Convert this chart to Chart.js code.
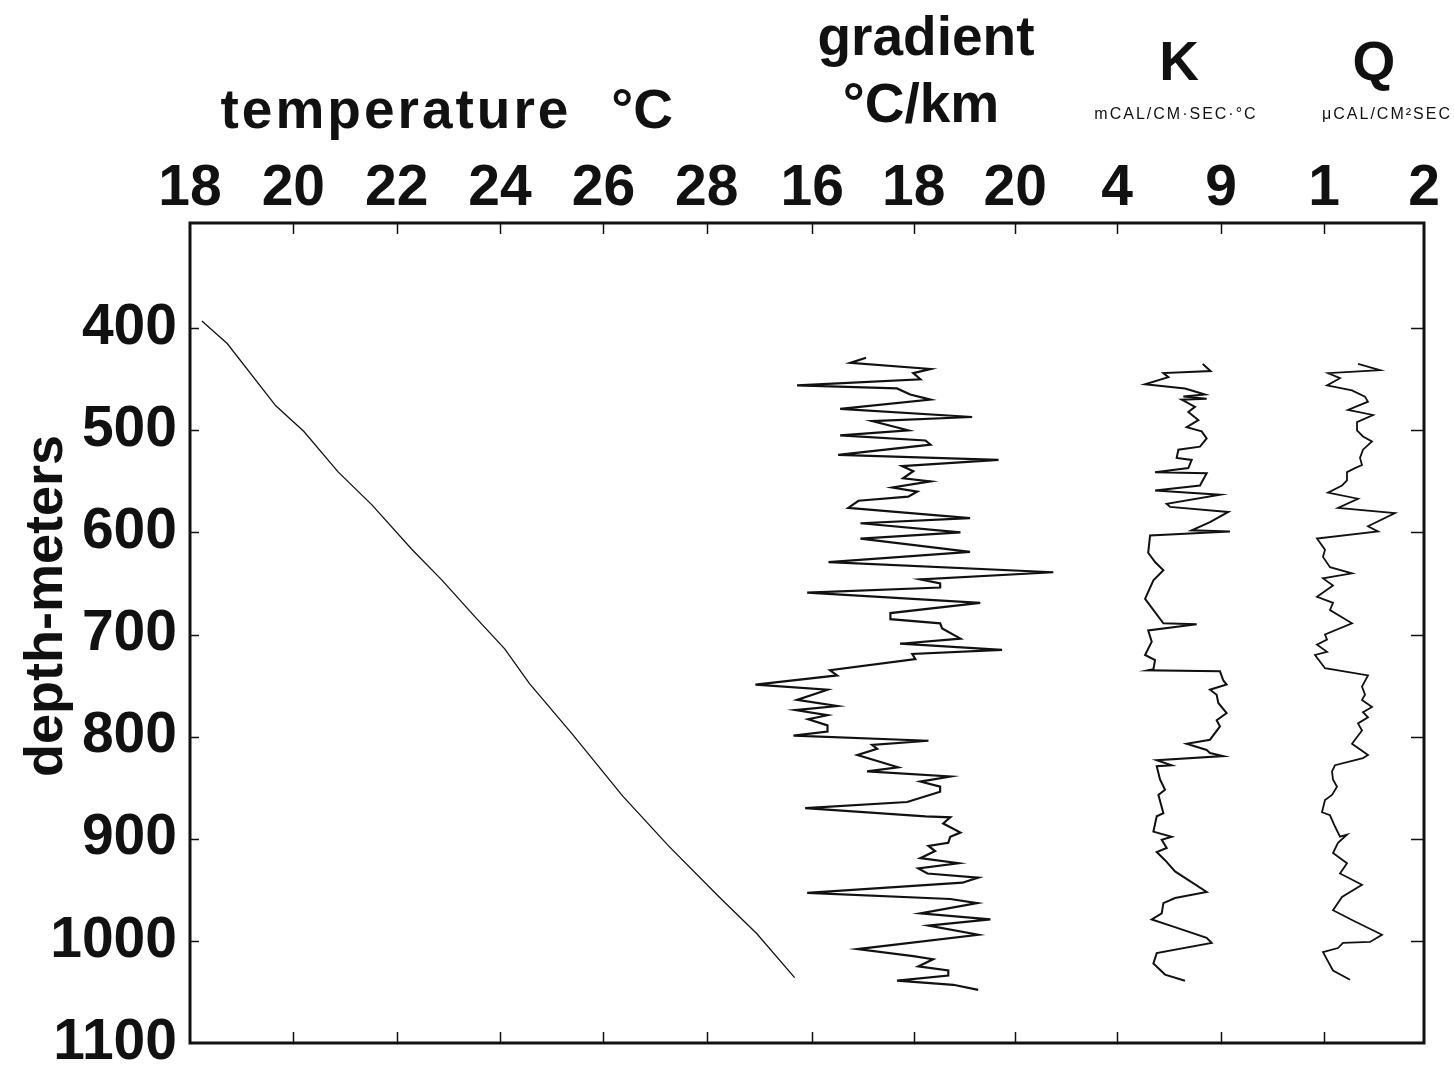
<!DOCTYPE html>
<html>
<head>
<meta charset="utf-8">
<title>Temperature, gradient, K and Q against depth</title>
<script src="https://cdn.jsdelivr.net/npm/chart.js"></script>
<style>
  html, body { margin: 0; padding: 0; background: #fff; }
  #wrap { width: 1454px; height: 1072px; position: relative; }
</style>
</head>
<body>
<div id="wrap"><canvas id="wellChart"></canvas></div>
<script>
// tick labels along the top (one set per track) and down the side
const tempTicks = [18, 20, 22, 24, 26, 28];
const gradTicks = [16, 18, 20];
const kTicks = [4, 9];
const qTicks = [1, 2];
const depthTicks = [400, 500, 600, 700, 800, 900, 1000, 1100];

// temperature log, deg C
const tempDepth = [393, 415, 476, 501, 541, 573, 617, 647, 683, 714, 748, 797, 858, 907, 957, 993, 1036, 1049];
const tempValue = [18.23, 18.72, 19.66, 20.20, 20.87, 21.52, 22.30, 22.88, 23.52, 24.09, 24.57, 25.39, 26.37, 27.26, 28.24, 28.97, 29.70, 29.91];

// gradient, deg C / km
const gradDepth = [429, 434, 440, 444, 450, 456, 459, 465, 470, 479, 487, 491, 500, 505, 510, 514, 524, 529, 535, 540,
  547, 550, 556, 560, 565, 569, 576, 586, 591, 600, 606, 619, 629, 639, 646, 650, 654, 659, 669, 679,
  685, 689, 694, 704, 709, 715, 719, 724, 735, 740, 749, 754, 764, 770, 774, 779, 783, 789, 795, 799,
  804, 808, 812, 818, 830, 834, 839, 844, 849, 854, 864, 870, 878, 879, 885, 894, 898, 904, 907, 912,
  919, 924, 929, 934, 938, 943, 953, 959, 963, 973, 979, 985, 994, 1008, 1015, 1018, 1025, 1029, 1034, 1039,
  1043, 1048];
const gradValue = [17.06, 16.75, 18.33, 17.99, 18.13, 15.70, 17.67, 17.93, 18.33, 16.55, 19.15, 17.18, 17.89, 16.55, 18.23, 18.33, 16.51, 19.67, 17.77, 17.99,
  17.79, 18.33, 17.58, 18.07, 17.89, 16.91, 16.71, 19.11, 16.95, 18.92, 16.95, 19.11, 16.32, 20.75, 18.13, 18.52, 18.52, 15.90, 19.31, 17.54,
  17.54, 18.52, 18.56, 18.92, 17.73, 19.74, 17.97, 18.03, 16.35, 16.49, 14.88, 16.30, 15.70, 16.49, 15.67, 16.30, 15.92, 16.30, 16.30, 15.63,
  18.29, 17.18, 17.28, 16.89, 17.69, 17.08, 18.72, 18.13, 18.52, 18.52, 17.87, 15.86, 18.23, 18.72, 18.58, 18.92, 18.72, 18.68, 18.29, 18.42,
  18.13, 18.88, 18.09, 18.27, 19.27, 18.96, 15.90, 18.72, 19.25, 18.13, 19.51, 18.29, 19.27, 16.89, 17.99, 18.38, 18.09, 18.68, 18.68, 17.67,
  18.78, 19.27];

// conductivity K, mcal/cm sec deg C
const kDepth = [435, 442, 444, 448, 455, 459, 461, 465, 467, 469, 470, 477, 482, 490, 497, 501, 508, 516, 519, 527,
  529, 537, 541, 542, 554, 559, 563, 572, 575, 580, 590, 598, 599, 603, 620, 629, 637, 647, 665, 689,
  690, 696, 707, 720, 725, 734, 735, 736, 745, 749, 754, 759, 767, 777, 784, 790, 803, 807, 813, 816,
  819, 823, 828, 829, 842, 852, 857, 875, 878, 893, 898, 901, 909, 913, 921, 932, 952, 958, 963, 973,
  979, 986, 997, 1002, 1012, 1022, 1033, 1039];
const kValue = [8.12, 8.50, 6.23, 6.47, 5.35, 7.27, 7.59, 8.23, 7.19, 8.31, 7.11, 7.75, 7.43, 7.91, 7.35, 8.07, 8.31, 7.99, 6.95, 6.87,
  7.59, 7.43, 5.83, 8.31, 7.99, 5.83, 8.95, 6.39, 6.55, 9.35, 8.47, 7.59, 9.43, 5.59, 5.50, 5.83, 6.23, 5.75, 5.35, 6.23,
  7.83, 5.50, 5.67, 5.35, 5.83, 5.75, 5.50, 8.95, 9.11, 9.27, 8.47, 8.79, 8.87, 9.27, 8.79, 8.95, 8.47, 7.35, 8.31, 8.47,
  9.11, 5.91, 6.63, 5.91, 6.07, 6.31, 5.99, 6.23, 5.91, 5.75, 6.63, 6.15, 6.39, 5.91, 6.31, 6.79, 8.31, 6.79, 6.23, 6.15,
  5.67, 6.71, 8.31, 8.55, 5.91, 5.75, 6.31, 7.27];

// heat flow Q, microcal/cm2 sec
const qDepth = [435, 441, 444, 449, 456, 461, 467, 472, 480, 485, 492, 500, 506, 511, 519, 527, 534, 537, 541, 549,
  554, 561, 567, 576, 581, 594, 599, 606, 617, 624, 634, 640, 645, 652, 663, 669, 676, 689, 700, 705,
  710, 717, 720, 733, 740, 751, 759, 764, 771, 776, 781, 787, 794, 807, 818, 821, 828, 834, 842, 849,
  857, 862, 874, 877, 888, 898, 896, 904, 914, 924, 934, 945, 957, 970, 980, 994, 1001, 1002, 1007, 1011,
  1029, 1038];
const qValue = [1.34, 1.56, 1.04, 1.16, 1.03, 1.28, 1.41, 1.44, 1.24, 1.49, 1.33, 1.33, 1.39, 1.48, 1.39, 1.36, 1.38, 1.31, 1.23, 1.23,
  1.18, 1.04, 1.34, 1.14, 1.71, 1.44, 1.54, 0.93, 1.01, 0.99, 1.06, 1.28, 0.99, 1.09, 0.93, 1.09, 1.06, 1.28, 1.01, 1.03,
  0.93, 1.03, 0.91, 1.01, 1.44, 1.38, 1.41, 1.38, 1.48, 1.39, 1.44, 1.34, 1.38, 1.28, 1.44, 1.39, 1.11, 1.08, 1.09, 1.13,
  1.08, 1.01, 0.98, 1.06, 1.11, 1.16, 1.23, 1.14, 1.09, 1.23, 1.16, 1.38, 1.18, 1.09, 1.29, 1.58, 1.46, 1.19, 1.14, 0.99,
  1.09, 1.26];

const INK = '#111';
const FONT = '"Liberation Sans", Arial, sans-serif';
const tickFont = { family: FONT, size: 57, weight: 'bold', lineHeight: 1 };

function toPoints(depths, values) {
  return depths.map((d, i) => ({ x: values[i], y: d }));
}

// one track of the top axis; the four tracks sit side by side in one stack
function topAxis(min, max, weight, tickValues) {
  return {
    type: 'linear',
    position: 'top',
    stack: 'tracks',
    stackWeight: weight,
    min: min,
    max: max,
    clip: false,
    grid: { display: false, drawTicks: false },
    border: { display: false },
    ticks: {
      autoSkip: false, maxRotation: 0, padding: 5, color: INK, font: tickFont,
      callback: (v) => String(v)
    },
    afterBuildTicks: (s) => { s.ticks = tickValues.map((v) => ({ value: v })); },
    afterFit: (s) => { s.height = 62; s.paddingLeft = 0; s.paddingRight = 0; }
  };
}

function track(values, depths, axisId, width) {
  return {
    data: toPoints(depths, values),
    xAxisID: axisId,
    yAxisID: 'y',
    showLine: true,
    borderColor: INK,
    borderWidth: width,
    pointRadius: 0,
    tension: 0,
    clip: false
  };
}

// frame, inward tick marks and the hand-lettered headings
const framePlugin = {
  id: 'frame',
  afterDraw(chart) {
    const { ctx, chartArea: a, scales } = chart;
    ctx.save();
    ctx.strokeStyle = INK;
    ctx.lineWidth = 3;
    ctx.strokeRect(a.left, a.top, a.right - a.left, a.bottom - a.top);

    ctx.lineWidth = 1.5;
    ctx.beginPath();
    ['xT', 'xG', 'xK', 'xQ'].forEach((id) => {
      const sc = scales[id];
      sc.ticks.forEach((t) => {
        const x = Math.round(sc.getPixelForValue(t.value)) + 0.5;
        if (x < a.left + 3 || x > a.right - 3) return;
        ctx.moveTo(x, a.top);
        ctx.lineTo(x, a.top + 11);
        ctx.moveTo(x, a.bottom);
        ctx.lineTo(x, a.bottom - 11);
      });
    });
    scales.y.ticks.forEach((t) => {
      const y = Math.round(scales.y.getPixelForValue(t.value)) + 0.5;
      if (y > a.bottom - 3) return;
      ctx.moveTo(a.left, y);
      ctx.lineTo(a.left + 9, y);
      ctx.moveTo(a.right, y);
      ctx.lineTo(a.right - 13, y);
    });
    ctx.stroke();

    ctx.fillStyle = INK;
    ctx.textBaseline = 'alphabetic';
    ctx.textAlign = 'center';
    ctx.font = 'bold 55px ' + FONT;
    ctx.letterSpacing = '3px';
    ctx.fillText('temperature', 396, 128);
    ctx.letterSpacing = '0px';
    ctx.fillText('°C', 642, 128);
    ctx.fillText('gradient', 926, 55);
    ctx.fillText('°C/km', 921, 122);
    ctx.fillText('K', 1179, 80);
    ctx.fillText('Q', 1374, 80);
    ctx.font = '16px ' + FONT;
    ctx.letterSpacing = '2px';
    ctx.fillText('mCAL/CM·SEC·°C', 1176, 119);
    ctx.fillText('μCAL/CM²SEC', 1387, 119);
    ctx.letterSpacing = '0px';

    ctx.translate(62, 606);
    ctx.rotate(-Math.PI / 2);
    ctx.font = 'bold 54px ' + FONT;
    ctx.fillText('depth-meters', 0, 0);
    ctx.restore();
  }
};

new Chart(document.getElementById('wellChart'), {
  type: 'scatter',
  data: {
    datasets: [
      track(tempValue, tempDepth, 'xT', 1.3),
      track(gradValue, gradDepth, 'xG', 2.2),
      track(kValue, kDepth, 'xK', 2),
      track(qValue, qDepth, 'xQ', 1.8)
    ]
  },
  options: {
    responsive: true,
    maintainAspectRatio: false,
    animation: false,
    devicePixelRatio: 1,
    layout: { padding: { top: 161, right: 30, bottom: 29, left: 0 } },
    plugins: { legend: { display: false }, tooltip: { enabled: false } },
    scales: {
      // top boxes are laid out in reverse order, so the rightmost track comes first
      xQ: topAxis(0.48, 2.0, 152, qTicks),
      xK: topAxis(1.55, 11.45, 206, kTicks),
      xG: topAxis(14.97, 21.0, 306, gradTicks),
      xT: topAxis(18, 29.03, 570, tempTicks),
      y: {
        type: 'linear',
        position: 'left',
        reverse: true,
        min: 297,
        max: 1100,
        grid: { display: false, drawTicks: false },
        border: { display: false },
        ticks: { padding: 13, color: INK, font: tickFont, callback: (v) => String(v) },
        afterBuildTicks: (s) => { s.ticks = depthTicks.map((v) => ({ value: v })); },
        afterFit: (s) => { s.width = 190; s.paddingTop = 0; s.paddingBottom = 0; }
      }
    }
  },
  plugins: [framePlugin]
});
</script>
</body>
</html>
